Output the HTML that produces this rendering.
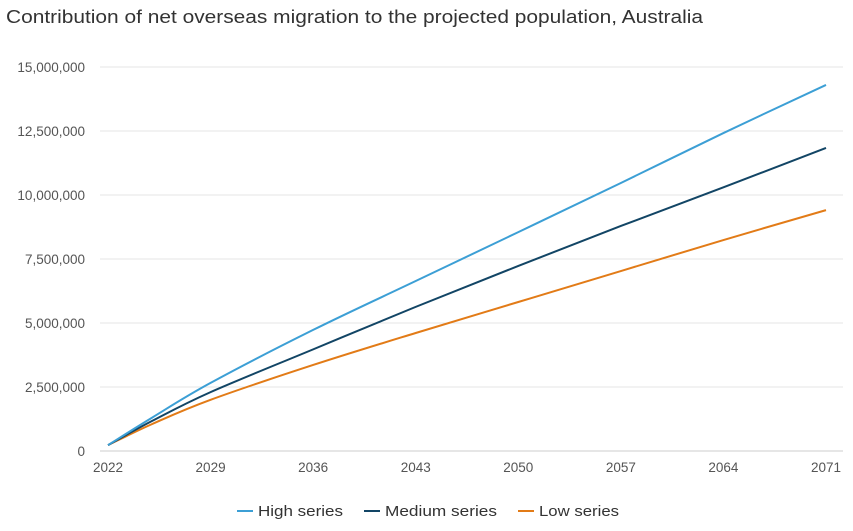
<!DOCTYPE html>
<html><head><meta charset="utf-8"><style>
body{margin:0;background:#fff;font-family:"Liberation Sans",sans-serif;}
svg text{font-family:"Liberation Sans",sans-serif;}
</style></head><body>
<svg width="853" height="526" viewBox="0 0 853 526">
<text x="6" y="23" font-size="18" fill="#333" textLength="697" lengthAdjust="spacingAndGlyphs">Contribution of net overseas migration to the projected population, Australia</text>
<g id="grid"></g><g id="series"></g><g id="axes"></g>
<g font-size="15" fill="#333">
<line x1="237" y1="511" x2="253" y2="511" stroke="#3c9fd5" stroke-width="2"/>
<text x="258" y="516" textLength="85" lengthAdjust="spacingAndGlyphs">High series</text>
<line x1="364" y1="511" x2="380" y2="511" stroke="#124565" stroke-width="2"/>
<text x="385" y="516" textLength="112" lengthAdjust="spacingAndGlyphs">Medium series</text>
<line x1="518" y1="511" x2="534" y2="511" stroke="#e27b17" stroke-width="2"/>
<text x="539" y="516" textLength="80" lengthAdjust="spacingAndGlyphs">Low series</text>
</g>
</svg>
<script>
const years=[2022,2025,2029,2036,2043,2050,2057,2064,2071];
const high=[0.23,1.3,2.66,4.73,6.64,8.55,10.47,12.42,14.3];
const medium=[0.23,1.17,2.3,3.97,5.63,7.23,8.79,10.3,11.84];
const low=[0.23,1.05,2.0,3.36,4.61,5.82,7.03,8.24,9.41];
const yTicks=[0,2.5,5,7.5,10,12.5,15];
const yLabels=["0","2,500,000","5,000,000","7,500,000","10,000,000","12,500,000","15,000,000"];
const xTicks=[2022,2029,2036,2043,2050,2057,2064,2071];
const NS="http://www.w3.org/2000/svg";
const X=v=>108+(v-2022)*(826-108)/49;
const Y=v=>451-v*64/2.5;
function mk(t,a,p){const e=document.createElementNS(NS,t);for(const k in a)e.setAttribute(k,a[k]);p.appendChild(e);return e;}
const grid=document.getElementById('grid'),axes=document.getElementById('axes'),ser=document.getElementById('series');
yTicks.forEach((v,i)=>{
 const l=mk('line',{x1:100,x2:843,y1:Y(v),y2:Y(v),stroke:i==0?'#ccc':'#e6e6e6','stroke-width':1},grid);
 
 
 const t=mk('text',{x:85,y:Y(v)+5,'text-anchor':'end','font-size':13.5,fill:'#555'},axes);
 t.textContent=yLabels[i];
 
 
});
xTicks.forEach(v=>{
 const t=mk('text',{x:X(v),y:472,'text-anchor':'middle','font-size':13.5,fill:'#555'},axes);
 t.textContent=v;
 
 
});
function path(vals){const p=years.map((y,i)=>[X(y),Y(vals[i])]);
 let d='M'+p[0][0]+','+p[0][1];
 for(let i=0;i<p.length-1;i++){const p0=p[Math.max(0,i-1)],p1=p[i],p2=p[i+1],p3=p[Math.min(p.length-1,i+2)];
  const c1=[p1[0]+(p2[0]-p0[0])/6,p1[1]+(p2[1]-p0[1])/6],c2=[p2[0]-(p3[0]-p1[0])/6,p2[1]-(p3[1]-p1[1])/6];
  d+=` C${c1[0]},${c1[1]} ${c2[0]},${c2[1]} ${p2[0]},${p2[1]}`;}
 return d;}
[[low,'#e27b17','line-low'],[medium,'#124565','line-medium'],[high,'#3c9fd5','line-high']].forEach(s=>{
 const e=mk('path',{d:path(s[0]),fill:'none',stroke:s[1],'stroke-width':2},ser);
 
 
});
</script>
</body></html>
